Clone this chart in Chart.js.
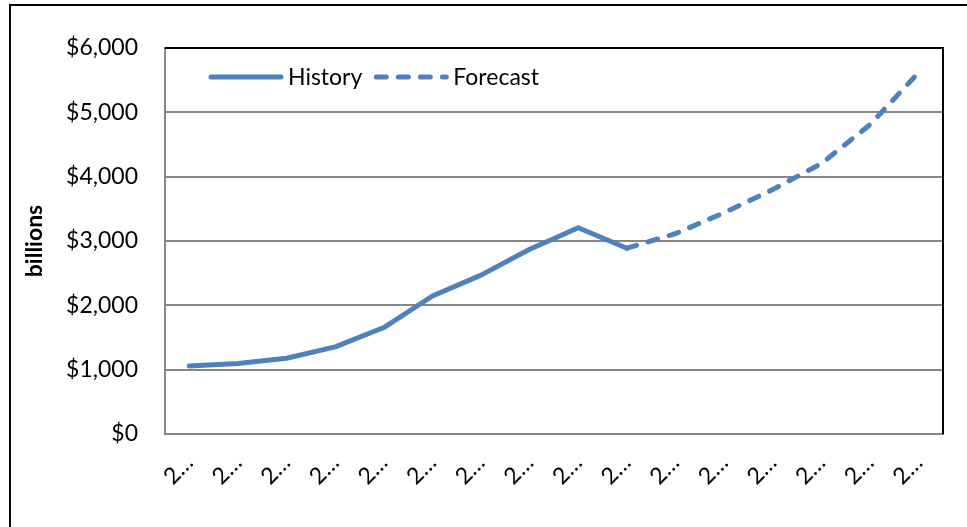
<!DOCTYPE html>
<html>
<head>
<meta charset="utf-8">
<script src="https://cdn.jsdelivr.net/npm/chart.js@4/dist/chart.umd.min.js"></script>
<style>
  html, body { margin: 0; padding: 0; background: #fff; overflow: hidden; }
  #wrap { position: relative; width: 967px; height: 527px; overflow: hidden; }
  #frame {
    position: absolute; left: 9px; top: 4px; width: 1200px; height: 800px;
    border: 2px solid #000; box-sizing: border-box;
  }
  #chart { position: absolute; left: 0; top: 0; }
</style>
</head>
<body>
<div id="wrap">
  <div id="frame"></div>
  <canvas id="chart" width="967" height="527"></canvas>
</div>
<script>
// periods on the category axis (labels are shown truncated)
const periodLabels = ['2…', '2…', '2…', '2…', '2…', '2…', '2…', '2…',
                      '2…', '2…', '2…', '2…', '2…', '2…', '2…', '2…'];

// $ billions
const historyValues  = [1057, 1095, 1178, 1355, 1655, 2145, 2470, 2872, 3205, 2888,
                        null, null, null, null, null, null];
const forecastValues = [null, null, null, null, null, null, null, null, null, 2888,
                        3115, 3440, 3800, 4205, 4810, 5620];

const yTicks = [0, 1000, 2000, 3000, 4000, 5000, 6000];

const seriesNames = ['History', 'Forecast'];
const lineBlue = '#4f81bd';
const fontFamily = 'Lato, "Open Sans", sans-serif';

// frame of the plot area: black top/right edges, grey axes drawn by the scales
const plotFrame = {
  id: 'plotFrame',
  afterDatasetsDraw(chart) {
    const { ctx, chartArea: a } = chart;
    ctx.save();
    ctx.strokeStyle = '#000';
    ctx.lineWidth = 2;
    ctx.beginPath();
    ctx.moveTo(a.left, a.top);
    ctx.lineTo(a.right, a.top);
    ctx.lineTo(a.right, a.bottom);
    ctx.stroke();
    ctx.restore();
  }
};

// legend placed inside the plot area, top-left
const innerLegend = {
  id: 'innerLegend',
  afterDraw(chart) {
    const { ctx, chartArea: a } = chart;
    const lineLen = 70;
    let x = a.left + 46;
    const y = a.top + 29;
    ctx.save();
    ctx.font = '23px ' + fontFamily;
    ctx.textBaseline = 'middle';
    ctx.fillStyle = '#000';
    chart.data.datasets.forEach((ds) => {
      ctx.strokeStyle = ds.borderColor;
      ctx.lineWidth = ds.borderWidth;
      ctx.lineCap = ds.borderCapStyle;
      ctx.setLineDash(ds.borderDash || []);
      ctx.beginPath();
      ctx.moveTo(x, y);
      ctx.lineTo(x + lineLen, y);
      ctx.stroke();
      x += lineLen + 7;
      ctx.fillText(ds.label, x, y + 1);
      x += ctx.measureText(ds.label).width + 14;
    });
    ctx.restore();
  }
};

new Chart(document.getElementById('chart'), {
  type: 'line',
  data: {
    labels: periodLabels,
    datasets: [
      {
        label: seriesNames[0],
        data: historyValues,
        borderColor: lineBlue,
        borderWidth: 5,
        borderCapStyle: 'round',
        borderJoinStyle: 'round',
        pointRadius: 0,
        tension: 0,
        spanGaps: false
      },
      {
        label: seriesNames[1],
        data: forecastValues,
        borderColor: lineBlue,
        borderWidth: 5,
        borderDash: [10, 12],
        borderCapStyle: 'round',
        borderJoinStyle: 'round',
        pointRadius: 0,
        tension: 0,
        spanGaps: false
      }
    ]
  },
  options: {
    responsive: false,
    animation: false,
    layout: { padding: { top: 48, right: 24, left: 0, bottom: 0 } },
    plugins: {
      legend: { display: false },
      tooltip: { enabled: false }
    },
    scales: {
      x: {
        offset: true,
        grid: { display: false, drawTicks: false },
        border: { display: true, color: '#878787', width: 2 },
        ticks: {
          autoSkip: false,
          maxRotation: 45,
          minRotation: 45,
          padding: 15,
          color: '#000',
          font: { family: fontFamily, size: 23 }
        },
        afterFit(scale) { scale.height = 93; }
      },
      y: {
        min: 0,
        max: 6000,
        afterBuildTicks(scale) { scale.ticks = yTicks.map(v => ({ value: v })); },
        grid: { color: '#878787', lineWidth: 2, drawTicks: false },
        border: { display: true, color: '#878787', width: 2 },
        ticks: {
          padding: 27,
          color: '#000',
          font: { family: fontFamily, size: 23 },
          callback: (v) => '$' + Number(v).toLocaleString('en-US')
        },
        title: {
          display: true,
          text: 'billions',
          color: '#000',
          font: { family: fontFamily, size: 23, weight: 'bold' },
          padding: { top: 21, bottom: 0 }
        },
        afterFit(scale) { scale.width = 165; }
      }
    }
  },
  plugins: [plotFrame, innerLegend]
});
</script>
</body>
</html>
